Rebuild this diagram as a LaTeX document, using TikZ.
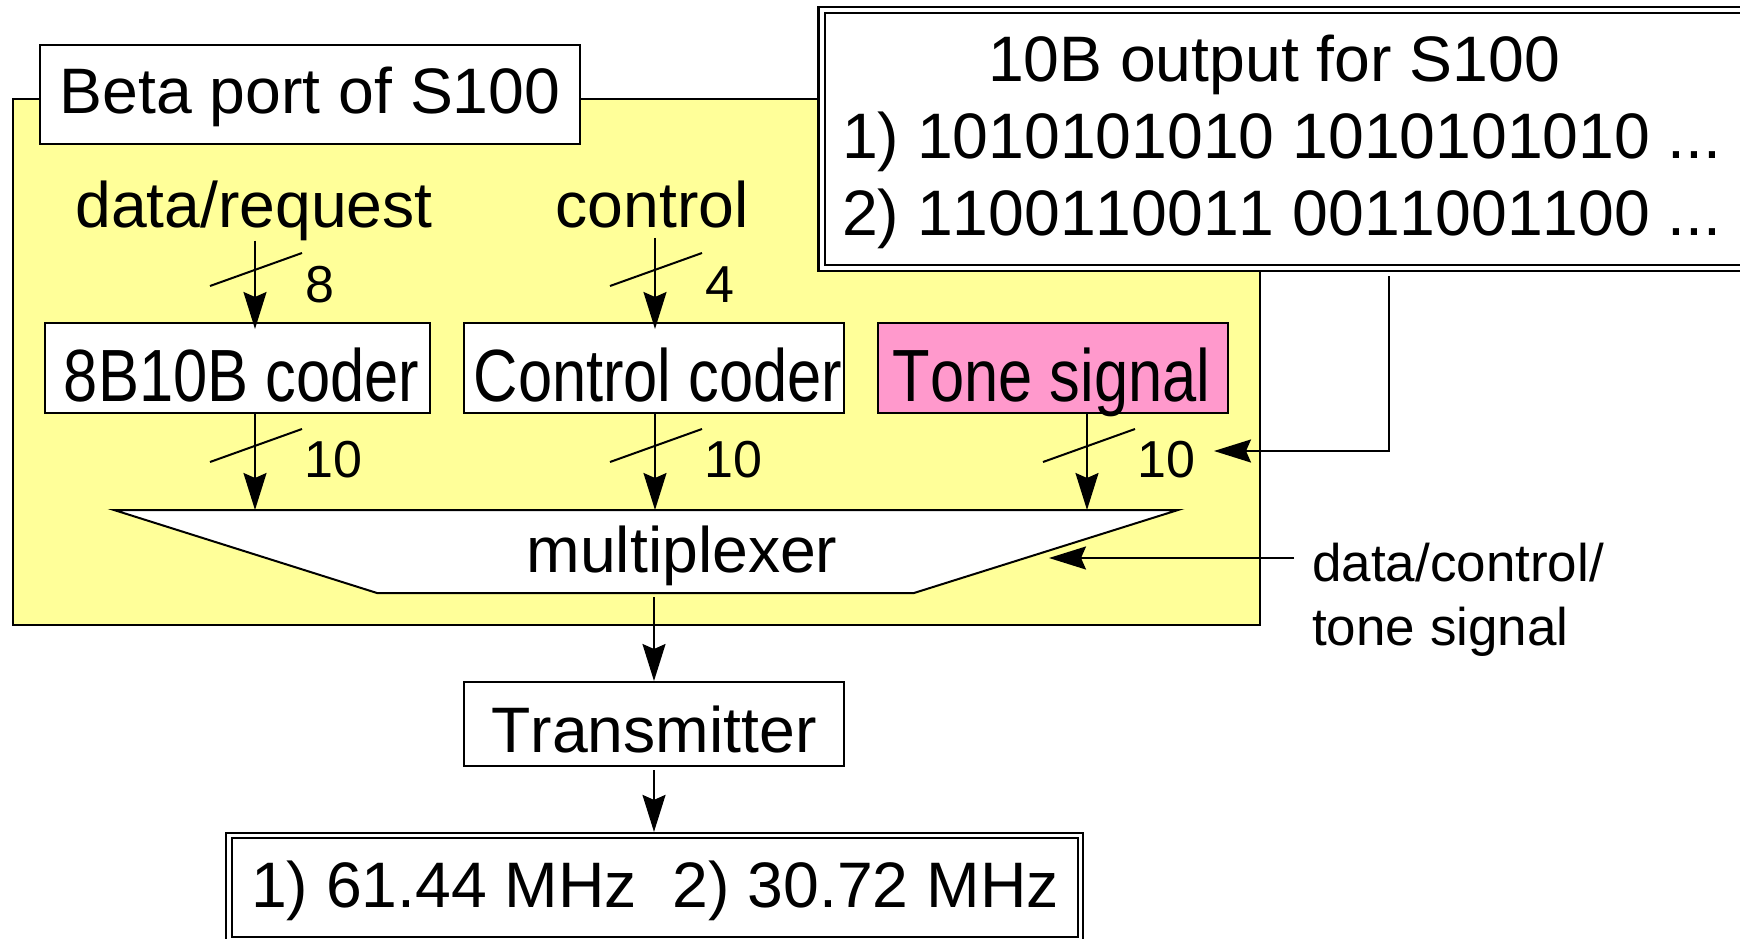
\documentclass[tikz,border=0pt]{standalone}
\usepackage{fontspec}
\setmainfont{Liberation Sans}[Kerning=Off]
\newfontfamily\narrowfont[FakeStretch=0.83,Kerning=Off]{Liberation Sans}
\usetikzlibrary{arrows.meta}
\definecolor{portyellow}{HTML}{FFFF99}
\definecolor{tonepink}{HTML}{FF99CC}
\begin{document}
\begin{tikzpicture}[x=1pt,y=-1pt,
  box/.style={draw, line width=2pt, fill=white, inner sep=0pt, text depth=0pt},
  arr/.style={line width=2pt, -{Stealth[length=37pt,width=23pt,inset=5pt]}},
  slash/.style={line width=2pt},
  big/.style={font=\fontsize{64.3}{77}\selectfont},
  coder/.style={font=\narrowfont\fontsize{74}{88}\selectfont},
  bits/.style={font=\fontsize{52}{62}\selectfont, inner sep=0pt, anchor=base west},
  side/.style={font=\fontsize{53}{64}\selectfont, inner sep=0pt, anchor=base west}
]
\useasboundingbox (0,0) rectangle (1740,939);
\clip (0,0) rectangle (1740,939);

% yellow port area
\path[draw, line width=2pt, fill=portyellow] (13,99) rectangle (1260,625);

% title
\node[box, big, minimum width=540pt, minimum height=99pt, text height=39pt] (title) at (310,94.5) {Beta port of S100};

% 10B output box (double frame, clipped on the right)
\node[draw, fill=white, line width=2.2pt, minimum width=941.5pt, minimum height=264pt, inner sep=0pt] (tenbo) at (1289.25,139) {};
\node[draw, line width=1.8pt, minimum width=929pt, minimum height=252pt, inner sep=0pt] (tenbi) at (1289.5,139) {};
\node[big, anchor=base, inner sep=0pt] (tl1) at (1274,82) {10B output for S100};
\node[big, anchor=base west, inner sep=0pt] (tl2) at (842,158) {1) 1010101010 1010101010 ...};
\node[big, anchor=base west, inner sep=0pt] (tl3) at (842,235) {2) 1100110011 0011001100 ...};

% input labels
\node[big, anchor=base, inner sep=0pt] (dreq) at (254,227) {data/request};
\node[big, anchor=base, inner sep=0pt] (ctrl) at (652,227) {control};

% coders
\node[box, coder, minimum width=385pt, minimum height=90pt, text height=66pt] (c1) at (237.5,368) {\hspace*{8pt}8B10B coder};
\node[box, coder, minimum width=380pt, minimum height=90pt, text height=66pt] (c2) at (654,368) {\hspace*{8pt}Control coder};
\node[box, coder, fill=tonepink, minimum width=350pt, minimum height=90pt, text height=66pt] (c3) at (1053,368) {Tone signal\hspace*{3pt}};

% multiplexer
\draw[line width=2pt, fill=white, line join=miter] (114,510) -- (1178,510) -- (914,593) -- (377,593) -- cycle;
\node[big, anchor=base, inner sep=0pt] (mux) at (682,572) {multiplexer};
\coordinate (m1) at (255,510);
\coordinate (m2) at (655,510);
\coordinate (m3) at (1087,510);
\coordinate (mb) at (655,593);

% arrows into coders
\draw[arr, shorten >=-7pt] (dreq.south -| m1) -- (c1.north -| m1);
\draw[arr, shorten <=10pt, shorten >=-7pt] (ctrl.south -| m2) -- (c2.north -| m2);
\draw[slash] (210,286) -- (302,253);
\draw[slash] (610,286) -- (702,253);
\node[bits] (b8) at (305,302) {8};
\node[bits] (b4) at (705,302) {4};

% arrows into multiplexer
\draw[arr] (c1.south -| m1) -- (m1);
\draw[arr] (c2.south -| m2) -- (m2);
\draw[arr] (c3.south -| m3) -- (m3);
\draw[slash] (210,462) -- (302,429);
\draw[slash] (610,462) -- (702,429);
\draw[slash] (1043,462) -- (1135,429);
\node[bits] (b10a) at (304,477) {10};
\node[bits] (b10b) at (704,477) {10};
\node[bits] (b10c) at (1137,477) {10};

% feedback from 10B output box
\coordinate (fbtop) at (1389,0);
\coordinate (fbend) at (1214,451);
\draw[arr, shorten <=4pt] (tenbo.south -| fbtop) |- (fbend);

% data/control/tone select input
\node[side] (dct1) at (1312,581) {data/control/};
\node[side] (dct2) at (1312,645) {tone signal};
\coordinate (dcin) at (1294,558);
\coordinate (dcend) at (1049,558);
\draw[arr] (dcin) -- (dcend);

% transmitter
\node[box, big, minimum width=380pt, minimum height=84pt, text height=56pt] (trans) at (654,724) {Transmitter};
\draw[arr, shorten <=4pt] (trans.north |- mb) -- (trans.north);

% frequency box (double frame)
\node[draw, fill=white, line width=2.2pt, minimum width=857pt, minimum height=109pt, inner sep=0pt] (freqo) at (654.5,887.5) {};
\node[box, big, line width=1.8pt, minimum width=846pt, minimum height=99pt, text height=39pt] (freq) at (655,887.5) {1) 61.44 MHz~~2) 30.72 MHz};
\draw[arr, shorten <=3pt] (trans.south) -- (trans.south |- freqo.north);
\end{tikzpicture}
\end{document}
